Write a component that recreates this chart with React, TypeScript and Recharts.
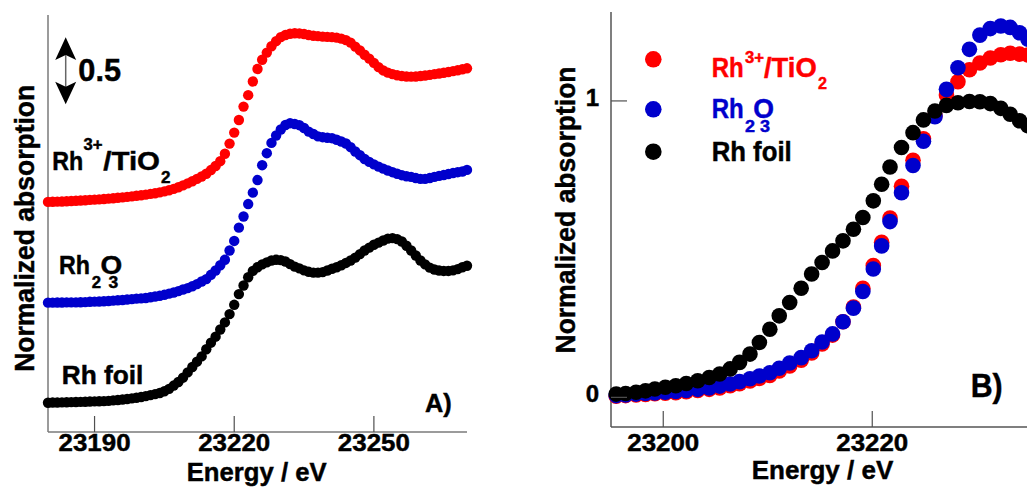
import React from 'react';
import { ScatterChart, Scatter, XAxis, YAxis } from 'recharts';

const FONT = '"Liberation Sans", Arial, Helvetica, sans-serif';
const RED = '#ff0000';
const BLUE = '#0000cc';
const BLACK = '#000000';
const FRAME_A = '#7a7a7a';
const FRAME_B = '#555555';
const TICK = '#505050';

// ---- A) wide XANES scan, offsets stack the three spectra ----
const energyA = [
  23180, 23181, 23182, 23183, 23184, 23185, 23186, 23187, 23188, 23189,
  23190, 23191, 23192, 23193, 23194, 23195, 23196, 23197, 23198, 23199,
  23200, 23201, 23202, 23203, 23204, 23205, 23206, 23207, 23208, 23209,
  23210, 23211, 23212, 23213, 23214, 23215, 23216, 23217, 23218, 23219,
  23220, 23221, 23222, 23223, 23224, 23225, 23226, 23227, 23228, 23229,
  23230, 23231, 23232, 23233, 23234, 23235, 23236, 23237, 23238, 23239,
  23240, 23241, 23242, 23243, 23244, 23245, 23246, 23247, 23248, 23249,
  23250, 23251, 23252, 23253, 23254, 23255, 23256, 23257, 23258, 23259,
  23260, 23261, 23262, 23263, 23264, 23265, 23266, 23267, 23268, 23269,
  23270,
];
const rh3A = [
  0.005, 0.006, 0.007, 0.008, 0.010, 0.011, 0.013, 0.015, 0.017, 0.019,
  0.021, 0.023, 0.025, 0.028, 0.031, 0.034, 0.037, 0.040, 0.044, 0.048,
  0.052, 0.056, 0.061, 0.066, 0.072, 0.079, 0.087, 0.096, 0.108, 0.121,
  0.135, 0.150, 0.166, 0.183, 0.202, 0.228, 0.256, 0.290, 0.342, 0.413,
  0.490, 0.578, 0.672, 0.752, 0.848, 0.935, 1.000, 1.050, 1.094, 1.130,
  1.158, 1.173, 1.182, 1.185, 1.184, 1.180, 1.173, 1.168, 1.165, 1.162,
  1.160, 1.158, 1.155, 1.148, 1.137, 1.120, 1.092, 1.065, 1.035, 1.008,
  0.978, 0.948, 0.925, 0.910, 0.899, 0.891, 0.886, 0.883, 0.882, 0.883,
  0.886, 0.890, 0.894, 0.899, 0.904, 0.909, 0.914, 0.920, 0.926, 0.933,
  0.940,
];
const rh2o3A = [
  0.000, 0.000, 0.001, 0.001, 0.002, 0.002, 0.002, 0.003, 0.004, 0.006,
  0.007, 0.008, 0.010, 0.012, 0.014, 0.017, 0.019, 0.022, 0.025, 0.028,
  0.030, 0.033, 0.038, 0.043, 0.048, 0.055, 0.063, 0.071, 0.081, 0.092,
  0.102, 0.115, 0.130, 0.148, 0.165, 0.195, 0.225, 0.262, 0.300, 0.365,
  0.432, 0.525, 0.603, 0.690, 0.770, 0.858, 0.962, 1.046, 1.118, 1.170,
  1.212, 1.243, 1.256, 1.250, 1.242, 1.222, 1.197, 1.180, 1.164, 1.158,
  1.154, 1.151, 1.140, 1.128, 1.114, 1.088, 1.058, 1.032, 1.005, 0.985,
  0.968, 0.952, 0.938, 0.925, 0.913, 0.902, 0.892, 0.885, 0.880, 0.872,
  0.866, 0.866, 0.872, 0.880, 0.887, 0.893, 0.900, 0.907, 0.913, 0.918,
  0.929,
];
const foilA = [
  0.000, 0.001, 0.001, 0.002, 0.003, 0.004, 0.005, 0.006, 0.007, 0.008,
  0.009, 0.010, 0.011, 0.013, 0.016, 0.019, 0.022, 0.026, 0.030, 0.035,
  0.040, 0.046, 0.053, 0.060, 0.068, 0.080, 0.097, 0.120, 0.145, 0.175,
  0.212, 0.250, 0.287, 0.324, 0.374, 0.420, 0.462, 0.512, 0.562, 0.620,
  0.685, 0.760, 0.820, 0.878, 0.922, 0.948, 0.968, 0.982, 0.995, 1.000,
  0.998, 0.988, 0.970, 0.952, 0.940, 0.926, 0.916, 0.910, 0.910, 0.914,
  0.925, 0.937, 0.948, 0.962, 0.978, 0.995, 1.015, 1.040, 1.065, 1.085,
  1.105, 1.120, 1.135, 1.148, 1.152, 1.145, 1.128, 1.098, 1.065, 1.030,
  0.995, 0.968, 0.945, 0.932, 0.925, 0.922, 0.922, 0.926, 0.935, 0.948,
  0.958,
];
const OFFSET_RH2O3 = 0.7;
const OFFSET_RH3 = 1.4;
const ticksA = [23190, 23220, 23250];

// ---- B) edge region, no offset ----
const energyB = [
  23195.5, 23196.4, 23197.4, 23198.3, 23199.2, 23200.2, 23201.2, 23202.2, 23203.3, 23204.4,
  23205.4, 23206.4, 23207.3, 23208.3, 23209.2, 23210.2, 23211.1, 23212.1, 23213.2, 23214.2,
  23215.2, 23216.2, 23217.2, 23218.2, 23219.1, 23220.1, 23220.9, 23221.7, 23222.8, 23223.9,
  23224.9, 23226.0, 23227.1, 23228.2, 23229.3, 23230.3, 23231.3, 23232.3, 23233.2, 23234.1,
  23234.9,
];
const rh3B = [
  0.004, 0.006, 0.008, 0.010, 0.012, 0.014, 0.016, 0.019, 0.023, 0.027,
  0.032, 0.039, 0.046, 0.055, 0.064, 0.074, 0.089, 0.106, 0.125, 0.150,
  0.180, 0.210, 0.255, 0.305, 0.368, 0.445, 0.523, 0.605, 0.712, 0.800,
  0.872, 0.950, 1.020, 1.065, 1.105, 1.128, 1.145, 1.156, 1.161, 1.158,
  1.155,
];
const rh2o3B = [
  0.006, 0.008, 0.011, 0.013, 0.015, 0.017, 0.020, 0.023, 0.027, 0.032,
  0.038, 0.045, 0.053, 0.063, 0.072, 0.083, 0.098, 0.116, 0.134, 0.157,
  0.187, 0.214, 0.255, 0.301, 0.357, 0.433, 0.511, 0.593, 0.690, 0.782,
  0.864, 0.947, 1.039, 1.112, 1.174, 1.222, 1.244, 1.253, 1.248, 1.230,
  1.208,
];
const foilB = [
  0.011, 0.013, 0.017, 0.022, 0.028, 0.034, 0.039, 0.047, 0.056, 0.067,
  0.079, 0.096, 0.118, 0.146, 0.185, 0.230, 0.275, 0.320, 0.368, 0.416,
  0.455, 0.494, 0.528, 0.567, 0.607, 0.663, 0.719, 0.777, 0.843, 0.893,
  0.936, 0.966, 0.985, 0.994, 0.998, 0.997, 0.991, 0.975, 0.955, 0.933,
  0.916,
];
const ticksBX = [23200, 23220];
const ticksBY = [0, 1];

const rows = (es: number[], vs: number[], off = 0) => es.map((e, i) => ({ e, v: vs[i] + off }));

const dot = (r: number, fill: string) => (p: any) => <circle cx={p.cx} cy={p.cy} r={r} fill={fill} />;

function Txt({ x, y, size, len, fill = '#000', anchor = 'start', rot, children }: any) {
  return (
    <text
      x={x}
      y={y}
      fontSize={size}
      fontWeight="bold"
      fontFamily={FONT}
      fill={fill}
      stroke={fill}
      strokeWidth={0.45}
      textAnchor={anchor}
      textLength={len}
      lengthAdjust={len ? 'spacingAndGlyphs' : undefined}
      transform={rot ? `rotate(${rot} ${x} ${y})` : undefined}
    >
      {children}
    </text>
  );
}

const bottomTick = (dy: number) => (p: any) => (
  <g>
    <line x1={p.x} x2={p.x} y1={p.y} y2={p.y - 16} stroke={TICK} strokeWidth={1.2} />
    <Txt x={p.x} y={p.y + dy} size={24.5} len={72} anchor="middle">{p.payload.value}</Txt>
  </g>
);
const topTick = (p: any) => (
  <line x1={p.x} x2={p.x} y1={p.y} y2={p.y + 16} stroke={TICK} strokeWidth={1.2} />
);
const leftTick = (p: any) => (
  <g>
    <line x1={p.x} x2={p.x + 16} y1={p.y} y2={p.y} stroke={TICK} strokeWidth={1.2} />
    <Txt x={p.x - 12} y={p.y + 5} size={24} anchor="end">{p.payload.value}</Txt>
  </g>
);
const rightTick = (p: any) => (
  <line x1={p.x - 16} x2={p.x} y1={p.y} y2={p.y} stroke={TICK} strokeWidth={1.2} />
);

function PanelA() {
  const line = { stroke: FRAME_A, strokeWidth: 1.5 };
  const dom: [number, number] = [23180, 23270];
  const ydom: [number, number] = [-0.205, 2.713];
  return (
    <ScatterChart width={520} height={487} margin={{ top: 15, right: 53, bottom: 0, left: 0 }}>
      <XAxis dataKey="e" type="number" domain={dom} ticks={ticksA} interval={0} tick={bottomTick(18.5)}
        tickLine={false} tickSize={0} tickMargin={0} height={55} axisLine={line} />
      <XAxis xAxisId="top" orientation="top" type="number" domain={dom} ticks={ticksA} interval={0}
        tick={topTick} tickLine={false} tickSize={0} tickMargin={0} height={0} axisLine={line} />
      <YAxis dataKey="v" type="number" domain={ydom} tick={false} tickLine={false} width={48} axisLine={line} />
      <YAxis yAxisId="right" orientation="right" type="number" domain={ydom} tick={false} tickLine={false}
        width={0} axisLine={line} />
      <Scatter data={rows(energyA, rh3A, OFFSET_RH3)} shape={dot(5.2, RED)} isAnimationActive={false} />
      <Scatter data={rows(energyA, rh2o3A, OFFSET_RH2O3)} shape={dot(5.2, BLUE)} isAnimationActive={false} />
      <Scatter data={rows(energyA, foilA)} shape={dot(5.2, BLACK)} isAnimationActive={false} />
    </ScatterChart>
  );
}

function PanelB() {
  const line = { stroke: FRAME_B, strokeWidth: 1.5 };
  const dom: [number, number] = [23195, 23235];
  const ydom: [number, number] = [-0.1, 1.3];
  return (
    <ScatterChart width={540} height={487} margin={{ top: 12, right: 51, bottom: 0, left: 0 }}>
      <XAxis dataKey="e" type="number" domain={dom} ticks={ticksBX} interval={0} tick={bottomTick(23.5)}
        tickLine={false} tickSize={0} tickMargin={0} height={60} axisLine={line} />
      <XAxis xAxisId="top" orientation="top" type="number" domain={dom} ticks={ticksBX} interval={0}
        tick={topTick} tickLine={false} tickSize={0} tickMargin={0} height={0} axisLine={line} />
      <YAxis dataKey="v" type="number" domain={ydom} ticks={ticksBY} interval={0} tick={leftTick}
        tickLine={false} tickSize={0} tickMargin={0} width={71} axisLine={line} />
      <YAxis yAxisId="right" orientation="right" type="number" domain={ydom} ticks={ticksBY} interval={0}
        tick={rightTick} tickLine={false} tickSize={0} tickMargin={0} width={0} axisLine={line} />
      <Scatter data={rows(energyB, rh3B)} shape={dot(7.8, RED)} isAnimationActive={false} />
      <Scatter data={rows(energyB, rh2o3B)} shape={dot(7.8, BLUE)} isAnimationActive={false} />
      <Scatter data={rows(energyB, foilB)} shape={dot(7.8, BLACK)} isAnimationActive={false} />
    </ScatterChart>
  );
}

function Overlay() {
  return (
    <svg width={1027} height={487} style={{ position: 'absolute', left: 0, top: 0, pointerEvents: 'none' }}>
      {/* panel A */}
      <Txt x={34} y={228.3} size={27} len={287} anchor="middle" rot={-90}>Normalized absorption</Txt>
      <Txt x={256.7} y={480.5} size={26.5} len={140} anchor="middle">Energy / eV</Txt>
      <polygon points="65.7,37.3 55.2,60 65.7,55 76.2,60" fill="#000" />
      <line x1={65.7} y1={55} x2={65.7} y2={87} stroke="#666" strokeWidth={1.5} />
      <polygon points="65.7,104.3 55.2,81.7 65.7,86.7 76.2,81.7" fill="#000" />
      <Txt x={78.3} y={81} size={32} len={42.7}>0.5</Txt>
      <Txt x={52.3} y={170} size={25} len={31}>Rh</Txt>
      <Txt x={83.5} y={150} size={16} len={19}>3+</Txt>
      <Txt x={103.3} y={170} size={25} len={56.7}>/TiO</Txt>
      <Txt x={161} y={183.3} size={16} len={9.5}>2</Txt>
      <Txt x={59} y={274} size={25} len={31}>Rh</Txt>
      <Txt x={91.7} y={287.8} size={16} len={9.3}>2</Txt>
      <Txt x={100.5} y={274} size={25} len={21.7}>O</Txt>
      <Txt x={108.5} y={287.8} size={16} len={9.7}>3</Txt>
      <Txt x={61.7} y={383.5} size={25} len={81.7}>Rh foil</Txt>
      <Txt x={425} y={412} size={26.5} len={26.7}>A)</Txt>

      {/* panel B */}
      <Txt x={575} y={210} size={27} len={287} anchor="middle" rot={-90}>Normalized absorption</Txt>
      <Txt x={822.5} y={479} size={26.5} len={141.7} anchor="middle">Energy / eV</Txt>
      <circle cx={653.3} cy={59.3} r={8.3} fill={RED} />
      <circle cx={653.3} cy={109.3} r={8.3} fill={BLUE} />
      <circle cx={653.3} cy={151.7} r={8.3} fill={BLACK} />
      <Txt x={711.7} y={76.5} size={27} len={32} fill={RED}>Rh</Txt>
      <Txt x={745} y={63.3} size={16} len={19} fill={RED}>3+</Txt>
      <Txt x={764} y={76.5} size={27} len={52.7} fill={RED}>/TiO</Txt>
      <Txt x={818} y={88.5} size={16} len={9} fill={RED}>2</Txt>
      <Txt x={711.7} y={117.5} size={27} len={32} fill={BLUE}>Rh</Txt>
      <Txt x={745} y={132} size={16} len={10} fill={BLUE}>2</Txt>
      <Txt x={753.3} y={117.5} size={27} len={20.7} fill={BLUE}>O</Txt>
      <Txt x={760} y={132} size={16} len={10} fill={BLUE}>3</Txt>
      <Txt x={711.7} y={161} size={27} len={80}>Rh foil</Txt>
      <Txt x={970.7} y={397} size={34} len={32}>B)</Txt>
    </svg>
  );
}

export default function App() {
  return (
    <div style={{ position: 'fixed', left: 0, top: 0, width: 1027, height: 487, overflow: 'hidden', background: '#fff' }}>
      <div style={{ position: 'absolute', left: 0, top: 0 }}>
        <PanelA />
      </div>
      <div style={{ position: 'absolute', left: 540, top: 0 }}>
        <PanelB />
      </div>
      <Overlay />
    </div>
  );
}
